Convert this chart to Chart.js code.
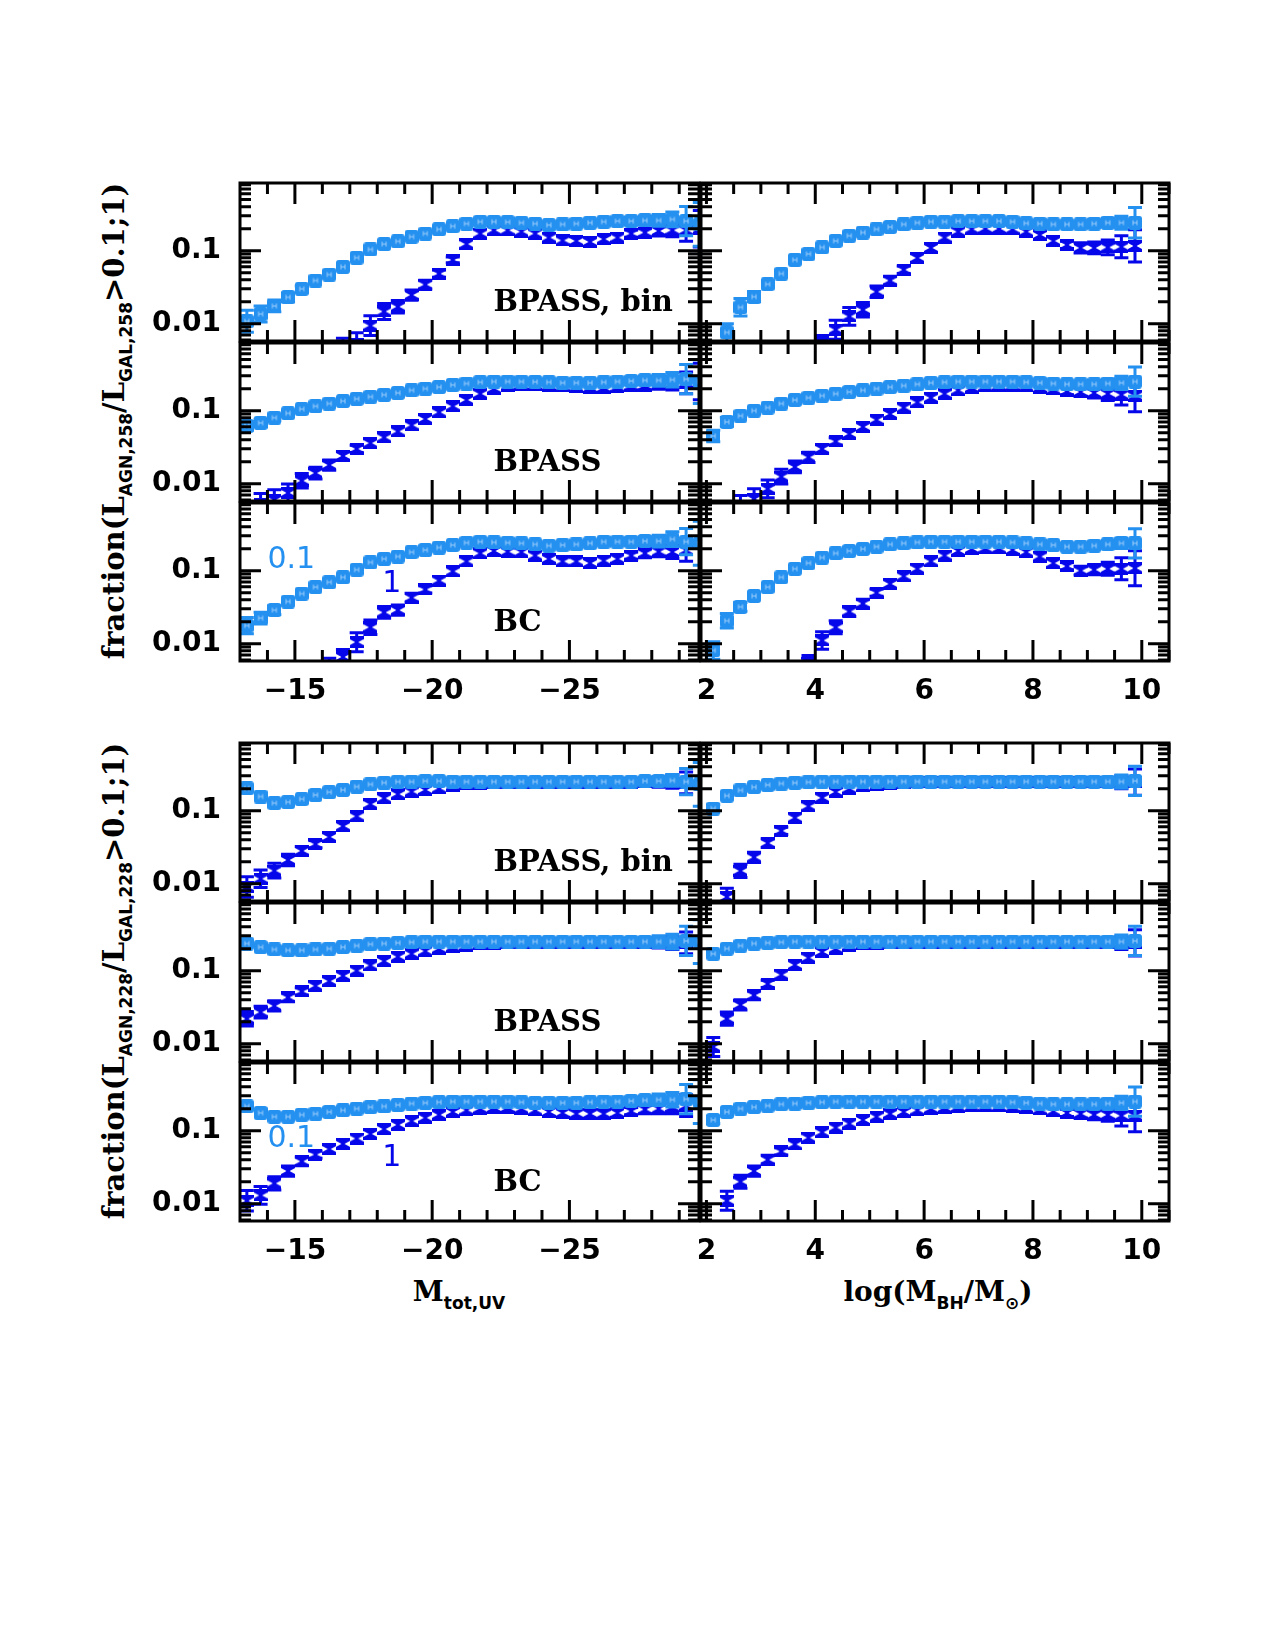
<!DOCTYPE html>
<html>
<head>
<meta charset="utf-8">
<title>AGN fraction vs M_UV and M_BH</title>
<script src="https://cdn.jsdelivr.net/npm/chart.js@4.4.1/dist/chart.umd.min.js"></script>
<style>
  html, body { margin: 0; padding: 0; background: #fff; }
  #page { position: relative; width: 1275px; height: 1650px; overflow: hidden; background: #fff; }
  #page canvas { position: absolute; }
  .ytitle { position: absolute; left: 114px; transform: translate(-50%, -50%) rotate(-90deg); font: bold 29px 'DejaVu Serif', serif; white-space: nowrap; color: #000; }
  .xtitle { position: absolute; top: 1275px; transform: translateX(-50%); font: bold 28px 'DejaVu Serif', serif; white-space: nowrap; color: #000; }
  .sub { font: bold 17px 'DejaVu Sans', sans-serif; position: relative; top: 8px; }
</style>
</head>
<body>
<div id="page">
  <div class="ytitle" style="top:421px">fraction(L<span class="sub">AGN,258</span>/L<span class="sub">GAL,258</span>&gt;0.1;1)</div>
  <div class="ytitle" style="top:981px">fraction(L<span class="sub">AGN,228</span>/L<span class="sub">GAL,228</span>&gt;0.1;1)</div>
  <div class="xtitle" style="left:459px">M<span class="sub">tot,UV</span></div>
  <div class="xtitle" style="left:938px">log(M<span class="sub">BH</span>/M<span class="sub">&#8857;</span>)</div>
</div>
<script>
// bin centres
const magBins = [-13.25, -13.75, -14.25, -14.75, -15.25, -15.75, -16.25, -16.75, -17.25, -17.75, -18.25, -18.75, -19.25, -19.75, -20.25, -20.75, -21.25, -21.75, -22.25, -22.75, -23.25, -23.75, -24.25, -24.75, -25.25, -25.75, -26.25, -26.75, -27.25, -27.75, -28.25, -28.75, -29.25, -29.75];
const bhBins = [2.125, 2.375, 2.625, 2.875, 3.125, 3.375, 3.625, 3.875, 4.125, 4.375, 4.625, 4.875, 5.125, 5.375, 5.625, 5.875, 6.125, 6.375, 6.625, 6.875, 7.125, 7.375, 7.625, 7.875, 8.125, 8.375, 8.625, 8.875, 9.125, 9.375, 9.625, 9.875];

// tick values
const magMajor = [-15, -20, -25];
const magMinor = [-14, -16, -17, -18, -19, -21, -22, -23, -24, -26, -27, -28, -29];
const bhMajor = [2, 4, 6, 8, 10];
const bhMinor = [2.5, 3, 3.5, 4.5, 5, 5.5, 6.5, 7, 7.5, 8.5, 9, 9.5, 10.5];
const fracMajor = [0.01, 0.1];
const fracMinor = [0.006, 0.007, 0.008, 0.009, 0.02, 0.03, 0.04, 0.05, 0.06, 0.07, 0.08, 0.09, 0.2, 0.3, 0.4, 0.5, 0.6, 0.7, 0.8];

// 258 nm, fraction above 0.1 (Lo) and above 1 (Hi); e* = half error in dex
const f258BinMagLo = [0.0108, 0.0136, 0.0175, 0.023, 0.030, 0.039, 0.047, 0.060, 0.080, 0.104, 0.123, 0.134, 0.155, 0.171, 0.196, 0.216, 0.234, 0.249, 0.249, 0.246, 0.241, 0.234, 0.224, 0.229, 0.234, 0.241, 0.249, 0.254, 0.254, 0.259, 0.259, 0.268, 0.254, 0.229];
const e258BinMagLo = [0.15, 0.11, 0.08, 0.06, 0.04, 0, 0, 0, 0, 0, 0, 0, 0, 0, 0, 0, 0, 0, 0, 0, 0, 0, 0, 0, 0, 0, 0, 0, 0.05, 0.06, 0.08, 0.1, 0.2, 0.3];
const f258BinMagHi = [null, null, null, null, null, null, null, 0.0048, 0.0052, 0.0094, 0.0147, 0.0171, 0.0247, 0.0343, 0.0484, 0.0748, 0.123, 0.171, 0.19, 0.19, 0.182, 0.171, 0.151, 0.138, 0.136, 0.132, 0.144, 0.151, 0.171, 0.177, 0.186, 0.19, 0.19, 0.2];
const e258BinMagHi = [0, 0, 0, 0, 0, 0, 0, 0.12, 0.16, 0.135, 0.11, 0.085, 0.07, 0.06, 0.05, 0.04, 0, 0, 0, 0, 0, 0, 0, 0, 0, 0, 0, 0, 0.05, 0.06, 0.07, 0.09, 0.15, 0.25];

const f258SinMagLo = [0.062, 0.068, 0.08, 0.092, 0.105, 0.115, 0.125, 0.135, 0.145, 0.155, 0.165, 0.175, 0.19, 0.2, 0.21, 0.225, 0.235, 0.245, 0.25, 0.25, 0.25, 0.248, 0.245, 0.24, 0.24, 0.24, 0.245, 0.25, 0.255, 0.26, 0.26, 0.265, 0.27, 0.25];
const e258SinMagLo = [0.06, 0.05, 0.04, 0, 0, 0, 0, 0, 0, 0, 0, 0, 0, 0, 0, 0, 0, 0, 0, 0, 0, 0, 0, 0, 0, 0, 0, 0, 0.05, 0.06, 0.08, 0.1, 0.2, 0.3];
const f258SinMagHi = [null, 0.0052, 0.006, 0.0075, 0.011, 0.014, 0.018, 0.024, 0.03, 0.036, 0.043, 0.052, 0.063, 0.077, 0.095, 0.115, 0.14, 0.17, 0.2, 0.22, 0.225, 0.225, 0.22, 0.215, 0.21, 0.205, 0.205, 0.21, 0.215, 0.22, 0.23, 0.235, 0.24, 0.25];
const e258SinMagHi = [0, 0.15, 0.14, 0.12, 0.1, 0.08, 0.07, 0.06, 0.05, 0, 0, 0, 0, 0, 0, 0, 0, 0, 0, 0, 0, 0, 0, 0, 0, 0, 0, 0, 0.05, 0.06, 0.07, 0.09, 0.15, 0.25];

const f258BcMagLo = [0.0177, 0.0224, 0.0288, 0.0378, 0.0484, 0.0596, 0.0695, 0.0812, 0.103, 0.13, 0.145, 0.156, 0.179, 0.192, 0.207, 0.224, 0.241, 0.249, 0.244, 0.241, 0.237, 0.229, 0.22, 0.224, 0.229, 0.237, 0.249, 0.249, 0.249, 0.254, 0.254, 0.27, 0.249, 0.237];
const e258BcMagLo = [0.11, 0.08, 0.06, 0, 0, 0, 0, 0, 0, 0, 0, 0, 0, 0, 0, 0, 0, 0, 0, 0, 0, 0, 0, 0, 0, 0, 0, 0, 0.05, 0.06, 0.08, 0.1, 0.18, 0.3];
const f258BcMagHi = [null, null, null, null, null, null, 0.0048, 0.0066, 0.0105, 0.0168, 0.0268, 0.0288, 0.0427, 0.0553, 0.0733, 0.098, 0.134, 0.173, 0.186, 0.182, 0.179, 0.161, 0.145, 0.134, 0.134, 0.127, 0.137, 0.145, 0.161, 0.173, 0.182, 0.18, 0.19, null];
const e258BcMagHi = [0, 0, 0, 0, 0, 0, 0.12, 0.1, 0.13, 0.1, 0.08, 0.07, 0.06, 0.05, 0, 0, 0, 0, 0, 0, 0, 0, 0, 0, 0, 0, 0, 0, 0.05, 0.06, 0.07, 0.09, 0.15, 0];

const f258BinBhLo = [null, 0.0076, 0.0168, 0.0234, 0.0347, 0.0484, 0.0748, 0.0902, 0.111, 0.136, 0.16, 0.177, 0.196, 0.211, 0.229, 0.241, 0.249, 0.249, 0.254, 0.254, 0.254, 0.254, 0.249, 0.237, 0.234, 0.229, 0.229, 0.229, 0.234, 0.241, 0.241, 0.241];
const e258BinBhLo = [0, 0.12, 0.12, 0.07, 0, 0, 0, 0, 0, 0, 0, 0, 0, 0, 0, 0, 0, 0, 0, 0, 0, 0, 0, 0, 0, 0, 0, 0, 0.05, 0.06, 0.09, 0.21];
const f258BinBhHi = [null, null, null, null, null, null, null, null, 0.0055, 0.0083, 0.0126, 0.0155, 0.0274, 0.039, 0.0548, 0.0796, 0.109, 0.151, 0.182, 0.196, 0.2, 0.2, 0.196, 0.182, 0.164, 0.136, 0.12, 0.109, 0.109, 0.111, 0.113, 0.116];
const e258BinBhHi = [0, 0, 0, 0, 0, 0, 0, 0, 0.1, 0.13, 0.12, 0.1, 0.08, 0.06, 0.05, 0, 0, 0, 0, 0, 0, 0, 0, 0, 0, 0, 0.05, 0.07, 0.08, 0.1, 0.15, 0.22];

const f258SinBhLo = [0.045, 0.07, 0.085, 0.1, 0.11, 0.125, 0.14, 0.15, 0.16, 0.17, 0.18, 0.19, 0.2, 0.21, 0.22, 0.23, 0.24, 0.245, 0.25, 0.25, 0.25, 0.25, 0.25, 0.245, 0.24, 0.235, 0.23, 0.23, 0.23, 0.235, 0.24, 0.25];
const e258SinBhLo = [0.08, 0.06, 0, 0, 0, 0, 0, 0, 0, 0, 0, 0, 0, 0, 0, 0, 0, 0, 0, 0, 0, 0, 0, 0, 0, 0, 0, 0, 0.05, 0.06, 0.09, 0.2];
const f258SinBhHi = [null, null, 0.005, 0.0062, 0.0085, 0.0125, 0.017, 0.023, 0.03, 0.038, 0.048, 0.06, 0.075, 0.09, 0.11, 0.13, 0.15, 0.17, 0.19, 0.205, 0.215, 0.22, 0.22, 0.215, 0.205, 0.195, 0.185, 0.18, 0.175, 0.17, 0.165, 0.16];
const e258SinBhHi = [0, 0, 0.14, 0.14, 0.12, 0.1, 0.08, 0.07, 0.06, 0.05, 0, 0, 0, 0, 0, 0, 0, 0, 0, 0, 0, 0, 0, 0, 0, 0, 0.05, 0.06, 0.07, 0.09, 0.14, 0.22];

const f258BcBhLo = [0.0081, 0.0206, 0.032, 0.045, 0.0596, 0.0812, 0.106, 0.127, 0.151, 0.173, 0.186, 0.198, 0.213, 0.229, 0.237, 0.244, 0.249, 0.249, 0.249, 0.249, 0.249, 0.249, 0.244, 0.237, 0.229, 0.224, 0.213, 0.213, 0.22, 0.229, 0.237, 0.237];
const e258BcBhLo = [0.12, 0.1, 0.06, 0, 0, 0, 0, 0, 0, 0, 0, 0, 0, 0, 0, 0, 0, 0, 0, 0, 0, 0, 0, 0, 0, 0, 0, 0, 0.05, 0.05, 0.07, 0.2];
const f258BcBhHi = [null, null, null, null, null, null, null, 0.0055, 0.0111, 0.0168, 0.0276, 0.0355, 0.0499, 0.066, 0.0838, 0.106, 0.134, 0.161, 0.186, 0.198, 0.202, 0.202, 0.192, 0.179, 0.156, 0.127, 0.115, 0.1, 0.103, 0.106, 0.106, 0.108];
const e258BcBhHi = [0, 0, 0, 0, 0, 0, 0, 0.1, 0.12, 0.09, 0.07, 0.06, 0.05, 0, 0, 0, 0, 0, 0, 0, 0, 0, 0, 0, 0, 0, 0.05, 0.06, 0.07, 0.09, 0.15, 0.24];

// 228 nm
const f228BinMagLo = [0.202, 0.156, 0.127, 0.131, 0.144, 0.164, 0.179, 0.192, 0.213, 0.229, 0.241, 0.249, 0.249, 0.254, 0.254, 0.249, 0.249, 0.249, 0.249, 0.249, 0.249, 0.249, 0.249, 0.249, 0.249, 0.249, 0.249, 0.249, 0.249, 0.254, 0.254, 0.259, 0.249, 0.229];
const e228BinMagLo = [0, 0, 0, 0, 0, 0, 0, 0, 0, 0, 0, 0, 0, 0, 0, 0, 0, 0, 0, 0, 0, 0, 0, 0, 0, 0, 0, 0, 0, 0.05, 0.06, 0.08, 0.18, 0.3];
const f228BinMagHi = [0.009, 0.0117, 0.0151, 0.0211, 0.0282, 0.0348, 0.0436, 0.0614, 0.0838, 0.123, 0.148, 0.168, 0.182, 0.192, 0.202, 0.22, 0.23, 0.235, 0.24, 0.24, 0.24, 0.24, 0.24, 0.24, 0.24, 0.24, 0.24, 0.24, 0.24, 0.245, 0.245, 0.25, 0.24, null];
const e228BinMagHi = [0.14, 0.12, 0.1, 0.08, 0.06, 0.05, 0, 0, 0, 0, 0, 0, 0, 0, 0, 0, 0, 0, 0, 0, 0, 0, 0, 0, 0, 0, 0, 0, 0.05, 0.06, 0.07, 0.09, 0.15, 0];

const f228SinMagLo = [0.235, 0.21, 0.195, 0.19, 0.19, 0.195, 0.2, 0.21, 0.22, 0.23, 0.235, 0.24, 0.245, 0.25, 0.25, 0.25, 0.25, 0.25, 0.25, 0.25, 0.25, 0.25, 0.25, 0.25, 0.25, 0.25, 0.25, 0.25, 0.25, 0.25, 0.25, 0.25, 0.255, 0.25];
const e228SinMagLo = [0, 0, 0, 0, 0, 0, 0, 0, 0, 0, 0, 0, 0, 0, 0, 0, 0, 0, 0, 0, 0, 0, 0, 0, 0, 0, 0, 0, 0.05, 0.06, 0.08, 0.1, 0.2, 0.3];
const f228SinMagHi = [0.022, 0.027, 0.033, 0.043, 0.052, 0.062, 0.072, 0.085, 0.1, 0.118, 0.135, 0.155, 0.17, 0.185, 0.2, 0.21, 0.22, 0.23, 0.235, 0.24, 0.24, 0.24, 0.24, 0.24, 0.24, 0.24, 0.24, 0.24, 0.24, 0.24, 0.24, 0.24, 0.24, null];
const e228SinMagHi = [0.1, 0.08, 0.07, 0.06, 0.05, 0, 0, 0, 0, 0, 0, 0, 0, 0, 0, 0, 0, 0, 0, 0, 0, 0, 0, 0, 0, 0, 0, 0, 0.05, 0.06, 0.07, 0.09, 0.15, 0];

const f228BcMagLo = [0.215, 0.175, 0.155, 0.155, 0.165, 0.17, 0.18, 0.19, 0.2, 0.21, 0.215, 0.225, 0.235, 0.24, 0.245, 0.25, 0.25, 0.25, 0.25, 0.25, 0.245, 0.24, 0.24, 0.24, 0.24, 0.245, 0.25, 0.25, 0.255, 0.26, 0.265, 0.265, 0.27, 0.25];
const e228BcMagLo = [0, 0, 0, 0, 0, 0, 0, 0, 0, 0, 0, 0, 0, 0, 0, 0, 0, 0, 0, 0, 0, 0, 0, 0, 0, 0, 0, 0, 0.05, 0.06, 0.08, 0.1, 0.2, 0.3];
const f228BcMagHi = [0.011, 0.013, 0.019, 0.028, 0.038, 0.047, 0.056, 0.066, 0.078, 0.09, 0.105, 0.12, 0.135, 0.15, 0.165, 0.18, 0.19, 0.2, 0.205, 0.205, 0.2, 0.19, 0.18, 0.175, 0.17, 0.17, 0.17, 0.175, 0.185, 0.195, 0.2, 0.21, 0.22, null];
const e228BcMagHi = [0.14, 0.12, 0.09, 0.07, 0.06, 0.05, 0, 0, 0, 0, 0, 0, 0, 0, 0, 0, 0, 0, 0, 0, 0, 0, 0, 0, 0, 0, 0, 0, 0.05, 0.06, 0.07, 0.09, 0.15, 0];

const f228BinBhLo = [0.107, 0.16, 0.19, 0.21, 0.225, 0.235, 0.24, 0.245, 0.25, 0.25, 0.25, 0.25, 0.25, 0.25, 0.25, 0.25, 0.25, 0.25, 0.25, 0.25, 0.25, 0.25, 0.25, 0.25, 0.25, 0.25, 0.25, 0.25, 0.25, 0.25, 0.25, 0.255];
const e228BinBhLo = [0.05, 0, 0, 0, 0, 0, 0, 0, 0, 0, 0, 0, 0, 0, 0, 0, 0, 0, 0, 0, 0, 0, 0, 0, 0, 0, 0, 0, 0.05, 0.06, 0.09, 0.2];
const f228BinBhHi = [null, 0.0066, 0.015, 0.023, 0.036, 0.053, 0.08, 0.115, 0.15, 0.18, 0.2, 0.215, 0.225, 0.235, 0.24, 0.245, 0.245, 0.245, 0.245, 0.245, 0.245, 0.245, 0.245, 0.245, 0.245, 0.245, 0.245, 0.245, 0.245, 0.245, 0.245, 0.245];
const e228BinBhHi = [0, 0.12, 0.09, 0.07, 0.06, 0.05, 0, 0, 0, 0, 0, 0, 0, 0, 0, 0, 0, 0, 0, 0, 0, 0, 0, 0, 0, 0, 0, 0, 0.05, 0.06, 0.09, 0.18];

const f228SinBhLo = [0.17, 0.2, 0.22, 0.235, 0.24, 0.245, 0.25, 0.25, 0.25, 0.25, 0.25, 0.25, 0.25, 0.25, 0.25, 0.25, 0.25, 0.25, 0.25, 0.25, 0.25, 0.25, 0.25, 0.25, 0.25, 0.25, 0.25, 0.25, 0.25, 0.25, 0.25, 0.255];
const e228SinBhLo = [0, 0, 0, 0, 0, 0, 0, 0, 0, 0, 0, 0, 0, 0, 0, 0, 0, 0, 0, 0, 0, 0, 0, 0, 0, 0, 0, 0, 0.05, 0.06, 0.09, 0.2];
const f228SinBhHi = [0.009, 0.022, 0.034, 0.046, 0.066, 0.088, 0.12, 0.15, 0.18, 0.2, 0.22, 0.23, 0.235, 0.24, 0.24, 0.24, 0.24, 0.24, 0.24, 0.24, 0.24, 0.24, 0.24, 0.24, 0.24, 0.24, 0.24, 0.24, 0.24, 0.24, 0.24, 0.24];
const e228SinBhHi = [0.13, 0.09, 0.07, 0.06, 0.05, 0, 0, 0, 0, 0, 0, 0, 0, 0, 0, 0, 0, 0, 0, 0, 0, 0, 0, 0, 0, 0, 0, 0, 0.05, 0.06, 0.09, 0.18];

const f228BcBhLo = [0.14, 0.18, 0.2, 0.21, 0.22, 0.23, 0.235, 0.24, 0.245, 0.25, 0.25, 0.25, 0.25, 0.25, 0.25, 0.25, 0.25, 0.25, 0.25, 0.25, 0.25, 0.25, 0.245, 0.24, 0.235, 0.23, 0.23, 0.23, 0.23, 0.235, 0.24, 0.25];
const e228BcBhLo = [0.05, 0, 0, 0, 0, 0, 0, 0, 0, 0, 0, 0, 0, 0, 0, 0, 0, 0, 0, 0, 0, 0, 0, 0, 0, 0, 0, 0, 0.05, 0.06, 0.09, 0.2];
const f228BcBhHi = [null, 0.011, 0.02, 0.028, 0.04, 0.052, 0.065, 0.08, 0.095, 0.11, 0.125, 0.14, 0.155, 0.17, 0.18, 0.19, 0.2, 0.205, 0.21, 0.215, 0.215, 0.215, 0.21, 0.205, 0.195, 0.185, 0.175, 0.17, 0.165, 0.165, 0.16, 0.16];
const e228BcBhHi = [0, 0.13, 0.09, 0.07, 0.06, 0.05, 0, 0, 0, 0, 0, 0, 0, 0, 0, 0, 0, 0, 0, 0, 0, 0, 0, 0, 0, 0, 0.05, 0.06, 0.07, 0.09, 0.14, 0.22];

// Look
const LIGHT = '#2490f0';
const DARK = '#0606ea';
const AXIS_W = 120, AXIS_H = 50, PAD = 6, ROW_H = 160;
const colX = [240, 701], colW = [461, 470], blockY = [181, 741];
const xRanges = [[-29.72, -13], [1.9, 10.5]];
const yRange = [0.0058, 0.843];

const modelLabels = ['BPASS, bin', 'BPASS', 'BC'];
const notes258 = [{text: '0.1', x: -14.0, y: 0.137, color: LIGHT}, {text: '1', x: -18.18, y: 0.065, color: DARK}];
const notes228 = [{text: '0.1', x: -14.0, y: 0.077, color: LIGHT}, {text: '1', x: -18.18, y: 0.042, color: DARK}];

const panels = [
  {block: 0, row: 0, col: 0, lo: f258BinMagLo, eLo: e258BinMagLo, hi: f258BinMagHi, eHi: e258BinMagHi},
  {block: 0, row: 1, col: 0, lo: f258SinMagLo, eLo: e258SinMagLo, hi: f258SinMagHi, eHi: e258SinMagHi},
  {block: 0, row: 2, col: 0, lo: f258BcMagLo, eLo: e258BcMagLo, hi: f258BcMagHi, eHi: e258BcMagHi, notes: notes258},
  {block: 0, row: 0, col: 1, lo: f258BinBhLo, eLo: e258BinBhLo, hi: f258BinBhHi, eHi: e258BinBhHi},
  {block: 0, row: 1, col: 1, lo: f258SinBhLo, eLo: e258SinBhLo, hi: f258SinBhHi, eHi: e258SinBhHi},
  {block: 0, row: 2, col: 1, lo: f258BcBhLo, eLo: e258BcBhLo, hi: f258BcBhHi, eHi: e258BcBhHi},
  {block: 1, row: 0, col: 0, lo: f228BinMagLo, eLo: e228BinMagLo, hi: f228BinMagHi, eHi: e228BinMagHi},
  {block: 1, row: 1, col: 0, lo: f228SinMagLo, eLo: e228SinMagLo, hi: f228SinMagHi, eHi: e228SinMagHi},
  {block: 1, row: 2, col: 0, lo: f228BcMagLo, eLo: e228BcMagLo, hi: f228BcMagHi, eHi: e228BcMagHi, notes: notes228},
  {block: 1, row: 0, col: 1, lo: f228BinBhLo, eLo: e228BinBhLo, hi: f228BinBhHi, eHi: e228BinBhHi},
  {block: 1, row: 1, col: 1, lo: f228SinBhLo, eLo: e228SinBhLo, hi: f228SinBhHi, eHi: e228SinBhHi},
  {block: 1, row: 2, col: 1, lo: f228BcBhLo, eLo: e228BcBhLo, hi: f228BcBhHi, eHi: e228BcBhHi}
];

// Marker images
function squareMarker() {
  const c = document.createElement('canvas');
  c.width = 14; c.height = 14;
  const g = c.getContext('2d');
  g.fillStyle = LIGHT;
  g.beginPath();
  g.roundRect(0, 0, 14, 14, 3);
  g.fill();
  g.strokeStyle = '#9ccdfa';
  g.lineWidth = 1;
  g.beginPath();
  g.moveTo(5, 4.5); g.lineTo(5, 9.5);
  g.moveTo(9, 4.5); g.lineTo(9, 9.5);
  g.moveTo(5, 7); g.lineTo(9, 7);
  g.stroke();
  return c;
}

function hourglassMarker() {
  const c = document.createElement('canvas');
  c.width = 14; c.height = 12;
  const g = c.getContext('2d');
  g.fillStyle = DARK;
  g.beginPath();
  g.moveTo(0, 0); g.lineTo(14, 0); g.lineTo(14, 3); g.lineTo(8.5, 6);
  g.lineTo(14, 9); g.lineTo(14, 12); g.lineTo(0, 12); g.lineTo(0, 9);
  g.lineTo(5.5, 6); g.lineTo(0, 3);
  g.closePath();
  g.fill();
  return c;
}

const SQUARE = squareMarker();
const HOURGLASS = hourglassMarker();

// Error bars, frame, inward ticks and panel text
const panelDeco = {
  id: 'panelDeco',
  beforeDatasetDraw(chart, args) {
    const ds = chart.data.datasets[args.index];
    const {ctx, chartArea: a, scales: {x, y}} = chart;
    ctx.save();
    ctx.beginPath();
    ctx.rect(a.left, a.top, a.right - a.left, a.bottom - a.top);
    ctx.clip();
    ctx.strokeStyle = ds.barColor;
    ctx.lineWidth = 3;
    ds.data.forEach((pt, i) => {
      const e = ds.errors[i];
      if (pt.y == null || !e) return;
      const px = x.getPixelForValue(pt.x);
      const top = y.getPixelForValue(pt.y * Math.pow(10, e));
      const bot = y.getPixelForValue(pt.y / Math.pow(10, e));
      ctx.beginPath();
      ctx.moveTo(px, top); ctx.lineTo(px, bot);
      ctx.moveTo(px - 7, top); ctx.lineTo(px + 7, top);
      ctx.moveTo(px - 7, bot); ctx.lineTo(px + 7, bot);
      ctx.stroke();
    });
    ctx.restore();
  },
  afterDraw(chart, args, opts) {
    const {ctx, chartArea: a, scales: {x, y}} = chart;
    ctx.save();
    ctx.strokeStyle = '#000';
    ctx.lineWidth = 3;
    ctx.beginPath();
    const xTick = (v, len) => {
      const px = x.getPixelForValue(v);
      if (px < a.left || px > a.right) return;
      ctx.moveTo(px, a.bottom); ctx.lineTo(px, a.bottom - len);
      ctx.moveTo(px, a.top); ctx.lineTo(px, a.top + len);
    };
    const yTick = (v, len) => {
      const py = y.getPixelForValue(v);
      if (py < a.top || py > a.bottom) return;
      ctx.moveTo(a.left, py); ctx.lineTo(a.left + len, py);
      ctx.moveTo(a.right, py); ctx.lineTo(a.right - len, py);
    };
    opts.xMajor.forEach(v => xTick(v, 21));
    opts.xMinor.forEach(v => xTick(v, 11));
    fracMajor.forEach(v => yTick(v, 21));
    fracMinor.forEach(v => yTick(v, 11));
    ctx.stroke();
    ctx.strokeRect(a.left, a.top, a.right - a.left, a.bottom - a.top);

    ctx.textBaseline = 'middle';
    ctx.textAlign = 'left';
    if (opts.label) {
      ctx.fillStyle = '#000';
      ctx.font = "bold 29px 'DejaVu Serif'";
      ctx.fillText(opts.label, x.getPixelForValue(-22.23), y.getPixelForValue(0.019));
    }
    (opts.notes || []).forEach(n => {
      ctx.fillStyle = n.color;
      ctx.font = "30px 'DejaVu Sans'";
      ctx.fillText(n.text, x.getPixelForValue(n.x), y.getPixelForValue(n.y));
    });
    ctx.restore();
  }
};

Chart.defaults.font.family = "'DejaVu Sans', sans-serif";
Chart.defaults.color = '#000';

const page = document.getElementById('page');

function tickText(v) {
  return v < 0 ? '\u2212' + Math.abs(v) : String(v);
}

panels.forEach(p => {
  const w = colW[p.col];
  const left = colX[p.col];
  const top = blockY[p.block] + p.row * ROW_H;
  const canvas = document.createElement('canvas');
  canvas.width = AXIS_W + w + PAD;
  canvas.height = PAD + ROW_H + AXIS_H;
  canvas.style.left = (left - AXIS_W) + 'px';
  canvas.style.top = (top - PAD) + 'px';
  page.appendChild(canvas);

  const bins = p.col === 0 ? magBins : bhBins;
  const xMajor = p.col === 0 ? magMajor : bhMajor;
  const xMinor = p.col === 0 ? magMinor : bhMinor;
  const showX = p.row === 2;
  const showY = p.col === 0;

  new Chart(canvas, {
    type: 'scatter',
    data: {
      datasets: [
        {
          data: bins.map((b, i) => ({x: b, y: p.lo[i]})),
          errors: p.eLo, barColor: LIGHT,
          pointStyle: SQUARE, pointRadius: 7, clip: 0
        },
        {
          data: bins.map((b, i) => ({x: b, y: p.hi[i]})),
          errors: p.eHi, barColor: DARK,
          pointStyle: HOURGLASS, pointRadius: 7, clip: 0
        }
      ]
    },
    options: {
      responsive: false,
      animation: false,
      devicePixelRatio: 1,
      events: [],
      layout: {padding: {top: PAD, right: PAD, left: 0, bottom: 0}},
      plugins: {
        legend: {display: false},
        tooltip: {enabled: false},
        panelDeco: {
          xMajor, xMinor,
          label: p.col === 0 ? modelLabels[p.row] : null,
          notes: p.notes
        }
      },
      scales: {
        x: {
          type: 'linear',
          min: xRanges[p.col][0], max: xRanges[p.col][1],
          reverse: p.col === 0,
          bounds: 'data',
          grid: {display: false, drawTicks: false},
          border: {display: false},
          afterBuildTicks: ax => { ax.ticks = xMajor.map(v => ({value: v})); },
          afterFit: ax => { ax.height = AXIS_H; ax.paddingLeft = 0; ax.paddingRight = 0; },
          ticks: {
            display: showX, autoSkip: false, maxRotation: 0, padding: 14,
            font: {size: 28, weight: 'bold'},
            callback: v => tickText(v)
          }
        },
        y: {
          type: 'logarithmic',
          min: yRange[0], max: yRange[1],
          bounds: 'data',
          grid: {display: false, drawTicks: false},
          border: {display: false},
          afterBuildTicks: ax => { ax.ticks = fracMajor.map(v => ({value: v})); },
          afterFit: ax => { ax.width = AXIS_W; ax.paddingTop = 0; ax.paddingBottom = 0; },
          ticks: {
            display: showY, autoSkip: false, padding: 19,
            font: {size: 28, weight: 'bold'},
            callback: v => String(v)
          }
        }
      }
    },
    plugins: [panelDeco]
  });
});
</script>
</body>
</html>
